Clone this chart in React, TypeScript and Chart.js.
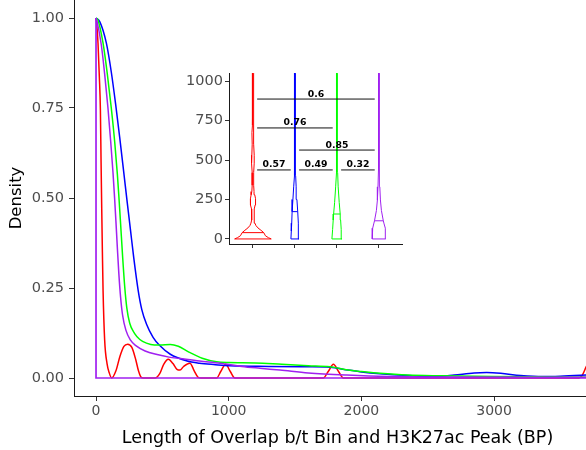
import React, { useEffect, useRef } from "react";
import { Chart, registerables } from "chart.js";
Chart.register(...registerables);

const FONT = "'DejaVu Sans', 'Liberation Sans', Arial, sans-serif";

// ---------- main density plot data ----------
const redX = [0, 6, 15, 25, 33, 38, 43, 48, 53, 65, 83, 100, 118, 150, 180, 210, 239, 270, 300, 320, 340, 355, 445, 480, 510, 545, 580, 610, 633, 660, 708, 740, 769, 790, 909, 940, 977, 1012, 1047, 1713, 1750, 1789, 1828, 1864, 3640, 3665, 3693, 3720, 3806];
const redY = [1, 0.98, 0.93, 0.837, 0.744, 0.6, 0.47, 0.35, 0.244, 0.106, 0.04, 0.014, 0, 0.02, 0.06, 0.088, 0.094, 0.085, 0.05, 0.02, 0.002, 0, 0, 0.012, 0.038, 0.052, 0.04, 0.024, 0.022, 0.032, 0.041, 0.02, 0.002, 0, 0, 0.018, 0.038, 0.018, 0, 0, 0.018, 0.038, 0.018, 0, 0, 0.008, 0.03, 0.05, 0.08];

const blueX = [0, 28, 78, 115, 148, 178, 211, 236, 260, 284, 317, 345, 380, 430, 480, 560, 680, 780, 900, 1010, 1300, 1600, 1763, 1900, 2000, 2140, 2350, 2567, 2700, 2850, 2944, 3050, 3200, 3369, 3500, 3693, 3806];
const blueY = [1, 0.99, 0.93, 0.85, 0.76, 0.67, 0.565, 0.485, 0.41, 0.335, 0.245, 0.19, 0.15, 0.113, 0.09, 0.066, 0.048, 0.041, 0.037, 0.034, 0.032, 0.031, 0.03, 0.022, 0.017, 0.012, 0.007, 0.004, 0.008, 0.014, 0.015, 0.013, 0.007, 0.004, 0.005, 0.008, 0.01];

const greenX = [0, 15, 53, 85, 115, 141, 161, 173, 185, 200, 216, 232, 254, 290, 330, 380, 440, 480, 560, 620, 700, 800, 909, 1000, 1200, 1400, 1600, 1763, 1900, 2000, 2140, 2350, 2600, 3000, 3400, 3806];
const greenY = [1, 0.994, 0.93, 0.845, 0.75, 0.655, 0.565, 0.5, 0.43, 0.34, 0.255, 0.195, 0.152, 0.124, 0.107, 0.097, 0.092, 0.092, 0.093, 0.088, 0.072, 0.055, 0.045, 0.043, 0.042, 0.038, 0.034, 0.031, 0.022, 0.018, 0.013, 0.008, 0.006, 0.004, 0.003, 0.002];

const purpleX = [0, 8, 40, 65, 90, 111, 128, 140, 150, 161, 172, 185, 200, 225, 260, 300, 370, 460, 550, 633, 780, 934, 1100, 1236, 1387, 1600, 1889, 2200, 2600, 3806];
const purpleY = [1, 0.99, 0.925, 0.845, 0.75, 0.655, 0.57, 0.5, 0.435, 0.36, 0.29, 0.225, 0.175, 0.133, 0.105, 0.09, 0.075, 0.065, 0.058, 0.054, 0.047, 0.041, 0.032, 0.027, 0.022, 0.014, 0.008, 0.004, 0.003, 0.002];

// density outline (vertical at x=0 and baseline)
const frameX = [0, 0, 3806];
const frameY = [1, 0, 0];

const mainXTicks = [0, 1000, 2000, 3000];
const mainYTicks = [0, 0.25, 0.5, 0.75, 1];

// ---------- inset violin data ----------
const violinPositions = [1, 2, 3, 4];
const redVioY = [0, 8, 20, 40, 55, 70, 85, 100, 120, 160, 190, 215, 235, 255, 280, 300, 340, 420, 480, 505, 530, 600, 673, 720, 800, 900, 1000, 1050, 1060];
const redVioD = [1, 0.847, 0.683, 0.59, 0.437, 0.273, 0.164, 0.109, 0.077, 0.06, 0.077, 0.12, 0.148, 0.137, 0.098, 0.06, 0.04, 0.04, 0.07, 0.08, 0.06, 0.04, 0.055, 0.04, 0.036, 0.036, 0.033, 0.022, 0];
const blueVioY = [0, 50, 100, 173, 250, 330, 400, 500, 700, 1000, 1050, 1060];
const blueVioD = [0.219, 0.197, 0.175, 0.153, 0.109, 0.068, 0.04, 0.03, 0.03, 0.027, 0.02, 0];
const greenVioY = [0, 60, 120, 158, 230, 330, 420, 600, 1000, 1050, 1060];
const greenVioD = [0.273, 0.235, 0.202, 0.18, 0.126, 0.068, 0.04, 0.03, 0.027, 0.02, 0];
const purpleVioY = [0, 30, 68, 95, 115, 180, 247, 330, 450, 1000, 1050, 1060];
const purpleVioD = [0.366, 0.361, 0.339, 0.284, 0.24, 0.137, 0.082, 0.05, 0.032, 0.027, 0.02, 0];
const violinMedians = [40, 173, 158, 115];

const insetYTicks = [0, 250, 500, 750, 1000];

const bracketStart = [1.1, 1.1, 2.1, 1.1, 2.1, 3.1];
const bracketEnd = [3.9, 2.9, 3.9, 1.9, 2.9, 3.9];
const bracketY = [886, 703, 563, 437, 437, 437];
const bracketLabels = ["0.6", "0.76", "0.85", "0.57", "0.49", "0.32"];

const RED = "#FF0000";
const BLUE = "#0000FF";
const GREEN = "#00FF00";
const PURPLE = "#A020F0";

const pts = (xs: number[], ys: number[]) => xs.map((x, i) => ({ x, y: ys[i] }));

const VIOLIN_HALF = 0.436;

function violinOutline(center: number, ys: number[], ds: number[]) {
  const right = ys.map((y, i) => ({ x: center + ds[i] * VIOLIN_HALF, y }));
  const left = ys.map((y, i) => ({ x: center - ds[i] * VIOLIN_HALF, y })).reverse();
  return [...right, ...left, right[0]];
}

function interp(ys: number[], ds: number[], v: number) {
  for (let i = 0; i < ys.length - 1; i++) {
    if (v >= ys[i] && v <= ys[i + 1]) {
      const t = (v - ys[i]) / (ys[i + 1] - ys[i]);
      return ds[i] + t * (ds[i + 1] - ds[i]);
    }
  }
  return ds[ds.length - 1];
}

const zeroPad = (s: any) => {
  s.paddingTop = 0;
  s.paddingBottom = 0;
  s.paddingLeft = 0;
  s.paddingRight = 0;
};

export default function App() {
  const mainRef = useRef<HTMLCanvasElement>(null);
  const insetRef = useRef<HTMLCanvasElement>(null);

  useEffect(() => {
    document.body.style.margin = "0";
    const line = (data: any[], color: string, order: number, mono = true, width = 1.5) => ({
      data,
      borderColor: color,
      backgroundColor: color,
      borderWidth: width,
      showLine: true,
      pointRadius: 0,
      fill: false,
      order,
      cubicInterpolationMode: mono ? "monotone" : "default",
      tension: 0,
    });

    const main = new Chart(mainRef.current!, {
      type: "scatter",
      data: {
        datasets: [
          line(pts(redX, redY), RED, 5),
          line(pts(blueX, blueY), BLUE, 4),
          line(pts(greenX, greenY), GREEN, 3),
          line(pts(purpleX, purpleY), PURPLE, 2),
          line(pts(frameX, frameY), PURPLE, 1, false, 1.7),
        ] as any,
      },
      options: {
        responsive: false,
        animation: false,
        events: [],
        layout: { padding: 0 },
        plugins: { legend: { display: false }, tooltip: { enabled: false } },
        scales: {
          x: {
            type: "linear",
            min: -166,
            max: 3806,
            afterBuildTicks: (s: any) => {
              s.ticks = mainXTicks.map((v) => ({ value: v }));
            },
            afterFit: (s: any) => {
              s.height = 54;
              zeroPad(s);
            },
            grid: { display: true, drawOnChartArea: false, drawTicks: true, tickLength: 5, color: "#333333", lineWidth: 1 },
            border: { display: true, color: "#1a1a1a", width: 1 },
            ticks: {
              font: { family: FONT, size: 14 },
              color: "#4D4D4D",
              padding: 2,
              maxRotation: 0,
              autoSkip: false,
              callback: (v: any) => String(v),
            },
            title: {
              display: true,
              text: "Length of Overlap b/t Bin and H3K27ac Peak (BP)",
              font: { family: FONT, size: 17.5 },
              color: "#000000",
              padding: { top: 0, bottom: 1.5 },
            },
          },
          y: {
            type: "linear",
            min: -0.05,
            max: 1.05,
            afterBuildTicks: (s: any) => {
              s.ticks = mainYTicks.map((v) => ({ value: v }));
            },
            afterFit: (s: any) => {
              s.width = 74;
              zeroPad(s);
            },
            grid: { display: true, drawOnChartArea: false, drawTicks: true, tickLength: 5, color: "#333333", lineWidth: 1 },
            border: { display: true, color: "#1a1a1a", width: 1 },
            ticks: {
              font: { family: FONT, size: 14.5 },
              color: "#4D4D4D",
              padding: 5,
              autoSkip: false,
              callback: (v: any) => Number(v).toFixed(2),
            },
            title: {
              display: true,
              text: "Density",
              font: { family: FONT, size: 16.5 },
              color: "#000000",
              padding: { top: 7, bottom: 0 },
            },
          },
        },
      } as any,
    });

    const vioSets = [
      [redVioY, redVioD, RED],
      [blueVioY, blueVioD, BLUE],
      [greenVioY, greenVioD, GREEN],
      [purpleVioY, purpleVioD, PURPLE],
    ] as [number[], number[], string][];

    const insetDatasets: any[] = [];
    vioSets.forEach(([ys, ds, color], i) => {
      insetDatasets.push(line(violinOutline(violinPositions[i], ys, ds), color, 2, false, 1));
      const hw = interp(ys, ds, violinMedians[i]) * VIOLIN_HALF;
      insetDatasets.push(
        line(
          [
            { x: violinPositions[i] - hw, y: violinMedians[i] },
            { x: violinPositions[i] + hw, y: violinMedians[i] },
          ],
          color,
          2,
          false,
          1
        )
      );
    });
    bracketStart.forEach((s, i) => {
      insetDatasets.push(
        line(
          [
            { x: s, y: bracketY[i] },
            { x: bracketEnd[i], y: bracketY[i] },
          ],
          "#111111",
          1,
          false,
          1
        )
      );
    });

    const bracketLabelPlugin = {
      id: "bracketLabels",
      afterDatasetsDraw(chart: any) {
        const { ctx, scales } = chart;
        ctx.save();
        ctx.font = `bold 9.3px ${FONT}`;
        ctx.fillStyle = "#000000";
        ctx.textAlign = "center";
        ctx.textBaseline = "alphabetic";
        bracketLabels.forEach((lab, i) => {
          const px = scales.x.getPixelForValue((bracketStart[i] + bracketEnd[i]) / 2);
          const py = scales.y.getPixelForValue(bracketY[i]) - 2.5;
          ctx.fillText(lab, px, py);
        });
        ctx.restore();
      },
    };

    const inset = new Chart(insetRef.current!, {
      type: "scatter",
      data: { datasets: insetDatasets },
      plugins: [bracketLabelPlugin],
      options: {
        responsive: false,
        animation: false,
        events: [],
        layout: { padding: { top: 13, right: 18, left: 0, bottom: 0 } },
        plugins: { legend: { display: false }, tooltip: { enabled: false } },
        scales: {
          x: {
            type: "linear",
            min: 0.43,
            max: 4.55,
            afterBuildTicks: (s: any) => {
              s.ticks = violinPositions.map((v) => ({ value: v }));
            },
            afterFit: (s: any) => {
              s.height = 16;
              zeroPad(s);
            },
            grid: { display: true, drawOnChartArea: false, drawTicks: true, tickLength: 4, color: "#333333", lineWidth: 1 },
            border: { display: true, color: "#1a1a1a", width: 1 },
            ticks: { display: true, callback: () => "", font: { family: FONT, size: 12 } },
          },
          y: {
            type: "linear",
            min: -32,
            max: 1051,
            afterBuildTicks: (s: any) => {
              s.ticks = insetYTicks.map((v) => ({ value: v }));
            },
            afterFit: (s: any) => {
              s.width = 69;
              zeroPad(s);
            },
            grid: { display: true, drawOnChartArea: false, drawTicks: true, tickLength: 4, color: "#333333", lineWidth: 1 },
            border: { display: true, color: "#1a1a1a", width: 1 },
            ticks: {
              font: { family: FONT, size: 14.5 },
              color: "#4D4D4D",
              padding: 2,
              autoSkip: false,
              callback: (v: any) => String(v),
            },
          },
        },
      } as any,
    });

    return () => {
      main.destroy();
      inset.destroy();
    };
  }, []);

  return (
    <div style={{ position: "relative", width: 586, height: 450, overflow: "hidden", background: "#fff" }}>
      <canvas
        ref={mainRef}
        width={601}
        height={450}
        style={{ position: "absolute", left: 0, top: 0, width: 601, height: 450, display: "block" }}
      />
      <canvas
        ref={insetRef}
        width={260}
        height={200}
        style={{ position: "absolute", left: 160, top: 60, width: 260, height: 200, display: "block" }}
      />
    </div>
  );
}
